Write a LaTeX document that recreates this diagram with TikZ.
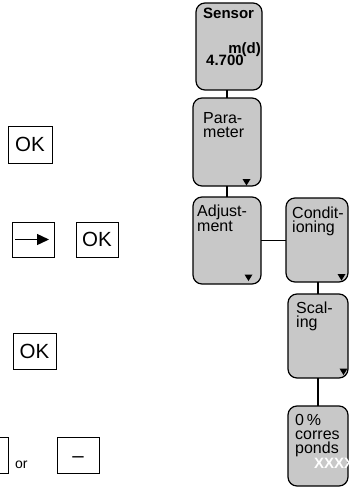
\documentclass[tikz,border=0pt]{standalone}
\usepackage{fontspec}
\setmainfont{Liberation Sans}
\usetikzlibrary{arrows.meta}
\definecolor{boxgray}{RGB}{200,200,200}
\begin{document}
\begin{tikzpicture}[x=1pt,y=-1pt,
  menubox/.style={draw=black, line width=1.2pt, fill=boxgray, rounded corners=9pt, inner sep=0pt, outer sep=0pt, anchor=north west},
  keybox/.style={draw=black, line width=0.9pt, fill=white, inner sep=0pt, outer sep=0pt, anchor=north west, minimum width=43pt, minimum height=36pt},
  boxtext/.style={anchor=base west, inner sep=0pt, font=\fontsize{16}{16}\selectfont},
  boldtext/.style={anchor=base west, inner sep=0pt, font=\fontsize{15}{15}\selectfont\bfseries},
  keytext/.style={inner sep=0pt, font=\fontsize{20.5}{20.5}\selectfont},
  link/.style={line width=1.2pt},
  tri/.style={fill=black}]
\useasboundingbox (0,0) rectangle (349,488);
\clip (0,0) rectangle (349,488);

% menu boxes
\node[menubox, minimum width=66pt, minimum height=87pt] (sensor) at (196,3) {};
\node[menubox, minimum width=68pt, minimum height=88pt] (param) at (193,98) {};
\node[menubox, minimum width=68pt, minimum height=87pt] (adjust) at (193,197) {};
\node[menubox, minimum width=62pt, minimum height=84pt] (cond) at (286,198) {};
\node[menubox, minimum width=60pt, minimum height=84pt] (scal) at (288,294) {};
\node[menubox, minimum width=60pt, minimum height=80pt] (zero) at (288,406) {};

% connectors
\draw[link] (sensor.south -| param.north) -- (param.north);
\draw[link] (param.south) -- (param.south |- adjust.north);
\draw[link] (adjust.east) -- (adjust.east -| cond.west);
\draw[link] (cond.south -| scal.north) -- (scal.north);
\draw[link] (scal.south) -- (scal.south |- zero.north);

% texts in menu boxes
\node[boldtext] (tsensor) at (203,18) {Sensor};
\node[boldtext, anchor=base east] (tmd) at (261,53) {m(d)};
\node[boldtext] (tval) at (206,65) {4.700};
\node[boxtext] (tpara1) at (203,123) {Para-};
\node[boxtext] (tpara2) at (203,137.5) {meter};
\node[boxtext] (tadj1) at (197,216) {Adjust-};
\node[boxtext] (tadj2) at (197,231) {ment};
\node[boxtext] (tcond1) at (292,218) {Condit-};
\node[boxtext] (tcond2) at (292,232.5) {ioning};
\node[boxtext] (tscal1) at (296,313) {Scal-};
\node[boxtext] (tscal2) at (296,327.5) {ing};
\node[boxtext] (tzero1) at (295,425) {0\,\%};
\node[boxtext] (tzero2) at (295,439) {corres};
\node[boxtext] (tzero3) at (295,453) {ponds};
\node[boldtext, text=white] (tzero4) at (314,468) {XXXX};

% small triangles
\fill[tri] ([shift={(-18.5,-7)}]param.south east) -- ++(8,0) -- ++(-4,6.5) -- cycle;
\fill[tri] ([shift={(-16.5,-9.5)}]adjust.south east) -- ++(8,0) -- ++(-4,6.5) -- cycle;
\fill[tri] ([shift={(-10.5,-8)}]cond.south east) -- ++(8,0) -- ++(-4,6.5) -- cycle;
\fill[tri] ([shift={(-8.5,-9.5)}]scal.south east) -- ++(8,0) -- ++(-4,6.5) -- cycle;

% keys on the left
\node[keybox, minimum width=44pt, minimum height=37pt] (ok1) at (8,126) {};
\node[keytext] (ok1t) at (ok1.center) {OK};
\node[keybox, minimum width=42pt, minimum height=35pt] (arrowkey) at (12,222) {};
\coordinate (arrs) at ([xshift=3pt]arrowkey.west);
\coordinate (arre) at ([xshift=-5pt]arrowkey.east);
\draw[line width=1.4pt, -{Triangle[length=12pt,width=11pt]}] (arrs) -- (arre);
\node[keybox, minimum width=42pt, minimum height=35pt] (ok2) at (76,222) {};
\node[keytext] (ok2t) at (ok2.center) {OK};
\node[keybox, minimum width=43pt, minimum height=36pt] (ok3) at (13,333) {};
\node[keytext] (ok3t) at (ok3.center) {OK};
\node[keybox, minimum width=43pt, minimum height=36pt] (plus) at (-35,437) {};
\node[anchor=base west, inner sep=0pt, font=\fontsize{14}{14}\selectfont] (or) at (15,468) {or};
\node[keybox, minimum width=42pt, minimum height=36pt] (minus) at (57,437) {};
\node[keytext] (minust) at ([yshift=-5pt]minus.center) {–};
\end{tikzpicture}
\end{document}
